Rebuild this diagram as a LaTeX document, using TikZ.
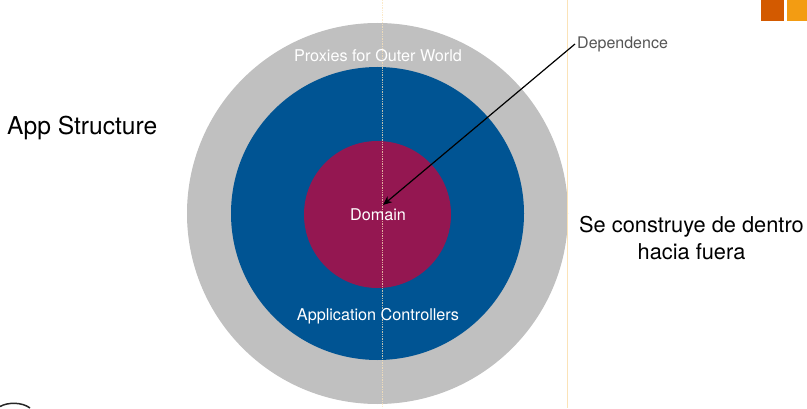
\documentclass[tikz,border=0pt]{standalone}
\usepackage{fontspec}
\setmainfont{TeX Gyre Heros}
\usetikzlibrary{arrows.meta}
\definecolor{ringgray}{HTML}{C0C0C0}
\definecolor{ringblue}{HTML}{005493}
\definecolor{ringred}{HTML}{941751}
\definecolor{guide}{HTML}{FBE3B8}
\definecolor{boxdark}{HTML}{D35A00}
\definecolor{boxlight}{HTML}{F39C12}
\definecolor{lbl}{HTML}{555555}
\tikzset{
  x=1pt,y=1pt,
  ring/.style={circle,inner sep=0pt,minimum size=#1},
  inlabel/.style={inner sep=0pt,anchor=base,text=white,font=\fontsize{16.2}{19}\selectfont},
  title/.style={inner sep=0pt,anchor=base,text=black},
  guideline/.style={guide,line width=0.8pt,opacity=0.75,dash pattern=on 1.4pt off 1pt},
  swatch/.style={inner sep=0pt,anchor=north west},
}
\begin{document}
\begin{tikzpicture}
\useasboundingbox (0,0) rectangle (807,408);
\fill[white] (0,0) rectangle (807,408);
\node[ring=381pt,fill=ringgray] (outer) at (377.5,194.5) {};
\node[ring=293pt,fill=ringblue] (middle) at (377.5,194.5) {};
\node[ring=147pt,fill=ringred] (inner) at (377.5,193.5) {};
\coordinate (gt) at (382.5,408);
\coordinate (gb) at (382.5,0);
\coordinate (rt) at (567.5,408);
\coordinate (rb) at (567.5,0);
\draw[guideline] (gt) -- (gb);
\draw[guide,line width=0.8pt] (rt) -- (rb);
\node[swatch,fill=boxdark,minimum width=23pt,minimum height=21pt] (sw1) at (761,408) {};
\node[swatch,fill=boxlight,minimum width=20pt,minimum height=21pt] (sw2) at (787,408) {};
\node[inlabel] (proxies) at (378,346) {Proxies for Outer World};
\node[inlabel] (domain) at (378,188) {Domain};
\node[inlabel] (controllers) at (378,88) {Application Controllers};
\node[inner sep=0pt,anchor=base west,text=lbl,font=\fontsize{16}{19}\selectfont] (dep) at (577,359) {Dependence};
\node[title,anchor=base west,font=\fontsize{24.6}{29}\selectfont] (app) at (7,273) {App Structure};
\node[title,align=center,anchor=base,font=\fontsize{21.8}{26}\selectfont] (se) at (691.5,148.5) {Se construye de dentro\\[1pt]hacia fuera};
\coordinate (depstart) at (575,364);
\coordinate (deptip) at (383,203);
\draw[-{Stealth[length=9pt,width=7.5pt]},black,line width=1.2pt] (depstart) -- (deptip);
\draw[black!85,line width=1.5pt] (0,1.5) .. controls (8,6) and (22,6) .. (30,0);
\end{tikzpicture}
\end{document}
